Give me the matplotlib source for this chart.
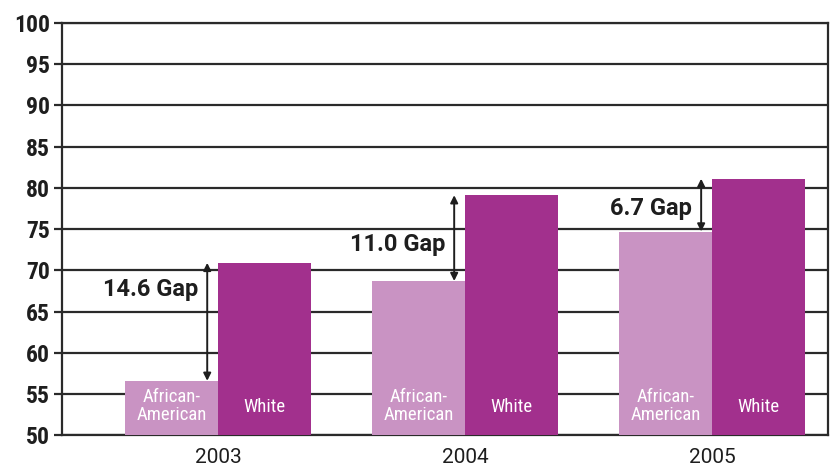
import numpy as np
import matplotlib
matplotlib.use("Agg")
import matplotlib.pyplot as plt

plt.rcParams['font.family'] = ['Roboto Condensed', 'DejaVu Sans']

years = ["2003", "2004", "2005"]
african_american = [56.6, 68.7, 74.7]
white = [70.9, 79.1, 81.1]
gap_labels = ["14.6 Gap", "11.0 Gap", "6.7 Gap"]
gap_label_y = [67.7, 73.1, 77.5]
yticks = list(range(50, 101, 5))

light = "#C993C3"
dark = "#A2308D"
ink = "#1e1e1e"

fig = plt.figure(figsize=(8.3, 4.66), dpi=100)
ax = fig.add_axes([0.075, 0.066, 0.923, 0.885])

x = np.arange(len(years))
w = 0.377
ax.bar(x - w / 2, [v - 50 for v in african_american], w, bottom=50, color=light, zorder=3)
ax.bar(x + w / 2, [v - 50 for v in white], w, bottom=50, color=dark, zorder=3)

for i in range(len(years)):
    ax.text(x[i] - w / 2, 53.6, "African-\nAmerican", color="white", ha="center",
            va="center", fontsize=13.5, linespacing=1.0, zorder=4)
    ax.text(x[i] + w / 2, 53.4, "White", color="white", ha="center",
            va="center", fontsize=13.5, zorder=4)
    # gap arrow
    ax.annotate("", xy=(x[i] - 0.045, white[i]), xytext=(x[i] - 0.045, african_american[i]),
                arrowprops=dict(arrowstyle="<|-|>", color=ink, lw=1.4,
                                mutation_scale=11, shrinkA=0, shrinkB=0), zorder=5)
    ax.text(x[i] - 0.082, gap_label_y[i], gap_labels[i], ha="right", va="center",
            fontsize=17, fontweight="bold", color=ink, family="Roboto", zorder=5)

ax.set_ylim(50, 100)
ax.set_xlim(-0.632, 2.47)
ax.set_yticks(yticks)
ax.set_yticklabels([str(t) for t in yticks], fontsize=17, fontweight="bold", color=ink)
ax.set_xticks(x)
ax.set_xticklabels(years, fontsize=15, color=ink, family="Roboto")
ax.tick_params(axis="x", length=0, pad=9)
ax.tick_params(axis="y", length=6, width=1.6, color="#2a2a2a", pad=3)
ax.yaxis.grid(True, color="#2a2a2a", lw=1.6, zorder=0)
for s in ax.spines.values():
    s.set_color("#2a2a2a")
    s.set_linewidth(1.6)

fig.savefig("out.png", dpi=100)
